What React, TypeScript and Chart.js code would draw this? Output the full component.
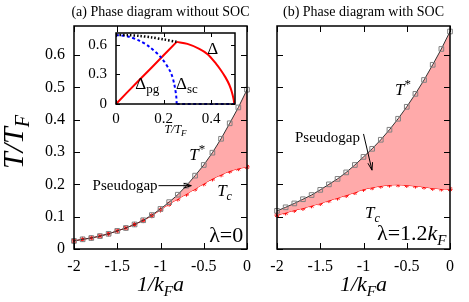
import React, { useEffect, useRef } from "react";
import { Chart, registerables } from "chart.js";

Chart.register(...registerables);

const SERIF = '"Liberation Serif", "DejaVu Serif", "Times New Roman", serif';

// ---- main panels data ----
const couplingX = [-2, -1.9, -1.8, -1.7, -1.6, -1.5, -1.4, -1.3, -1.2, -1.1, -1, -0.9, -0.8, -0.7, -0.6, -0.5, -0.4, -0.3, -0.2, -0.1, 0];
const tStarNoSOC = [0.025, 0.03, 0.034, 0.04, 0.047, 0.056, 0.065, 0.076, 0.089, 0.105, 0.124, 0.145, 0.168, 0.196, 0.227, 0.26, 0.298, 0.341, 0.389, 0.438, 0.493];
const tcNoSOC = [0.025, 0.03, 0.034, 0.04, 0.047, 0.056, 0.065, 0.076, 0.088, 0.103, 0.121, 0.139, 0.155, 0.17, 0.186, 0.202, 0.217, 0.23, 0.241, 0.249, 0.254];
const tStarSOC = [0.118, 0.129, 0.141, 0.154, 0.167, 0.183, 0.2, 0.217, 0.237, 0.26, 0.285, 0.31, 0.338, 0.369, 0.403, 0.44, 0.48, 0.523, 0.57, 0.619, 0.673];
const tcSOC = [0.105, 0.112, 0.12, 0.126, 0.134, 0.141, 0.15, 0.158, 0.166, 0.175, 0.185, 0.19, 0.195, 0.198, 0.199, 0.197, 0.195, 0.192, 0.188, 0.186, 0.185];
const mainXTicks = [-2, -1.5, -1, -0.5, 0];
const mainYTicks = [0, 0.1, 0.2, 0.3, 0.4, 0.5, 0.6];

// ---- inset data (gap vs T/T_F) ----
const pgRiseT = [0, 0.05, 0.1, 0.15, 0.2, 0.255];
const pgRiseV = [0, 0.125, 0.248, 0.37, 0.495, 0.63];
const gapFallT = [0.255, 0.3, 0.35, 0.385, 0.42, 0.44, 0.46, 0.476, 0.487, 0.494, 0.497];
const gapFallV = [0.63, 0.61, 0.56, 0.505, 0.41, 0.345, 0.27, 0.195, 0.12, 0.05, 0];
const scCurveT = [0, 0.05, 0.1, 0.14, 0.19, 0.23, 0.245, 0.253, 0.255];
const scCurveV = [0.7, 0.685, 0.64, 0.58, 0.47, 0.32, 0.2, 0.08, 0];
const scZeroT = [0.255, 0.5];
const scZeroV = [0, 0];
const totalT = [0, 0.05, 0.1, 0.15, 0.2, 0.255];
const totalV = [0.7, 0.698, 0.69, 0.675, 0.655, 0.63];
const insetXTicks = [0, 0.2, 0.4];
const insetYTicks = [0, 0.3, 0.6];

type Seg = { t: string; size: number; italic?: boolean; dy?: number };

function fontOf(s: Seg) {
  return `${s.italic ? "italic " : ""}${s.size}px ${SERIF}`;
}

function drawRich(ctx: CanvasRenderingContext2D, x: number, y: number, segs: Seg[], align: "left" | "center" | "right" = "left") {
  let total = 0;
  const widths = segs.map((s) => {
    ctx.font = fontOf(s);
    const w = ctx.measureText(s.t).width;
    total += w;
    return w;
  });
  let cx = align === "left" ? x : align === "center" ? x - total / 2 : x - total;
  ctx.textAlign = "left";
  segs.forEach((s, i) => {
    ctx.font = fontOf(s);
    ctx.fillText(s.t, cx, y + (s.dy || 0));
    cx += widths[i];
  });
}

function arrow(ctx: CanvasRenderingContext2D, x1: number, y1: number, x2: number, y2: number) {
  ctx.beginPath();
  ctx.moveTo(x1, y1);
  ctx.lineTo(x2, y2);
  ctx.stroke();
  const ang = Math.atan2(y2 - y1, x2 - x1);
  const head = 8;
  const sp = 0.3;
  ctx.beginPath();
  ctx.moveTo(x2 - head * Math.cos(ang - sp), y2 - head * Math.sin(ang - sp));
  ctx.lineTo(x2, y2);
  ctx.lineTo(x2 - head * Math.cos(ang + sp), y2 - head * Math.sin(ang + sp));
  ctx.stroke();
}

function pairs(xs: number[], ys: number[]) {
  return xs.map((x, i) => ({ x, y: ys[i] }));
}

function framePlugin(xt: number[], yt: number[], len: number, lw: number, extra?: (chart: any) => void) {
  return {
    id: "frameTicks",
    afterDraw(chart: any) {
      const { ctx, chartArea: a, scales } = chart;
      ctx.save();
      ctx.strokeStyle = "#000";
      ctx.lineWidth = 1;
      ctx.beginPath();
      for (const v of xt) {
        const px = Math.round(scales.x.getPixelForValue(v)) + 0.5;
        ctx.moveTo(px, a.bottom);
        ctx.lineTo(px, a.bottom - len);
        ctx.moveTo(px, a.top);
        ctx.lineTo(px, a.top + len);
      }
      for (const v of yt) {
        const py = Math.round(scales.y.getPixelForValue(v)) + 0.5;
        ctx.moveTo(a.left, py);
        ctx.lineTo(a.left + len, py);
        ctx.moveTo(a.right, py);
        ctx.lineTo(a.right - len, py);
      }
      ctx.stroke();
      ctx.lineWidth = lw;
      ctx.strokeRect(a.left, a.top, a.right - a.left, a.bottom - a.top);
      ctx.fillStyle = "#000";
      ctx.textBaseline = "alphabetic";
      if (extra) extra(chart);
      ctx.restore();
    },
  };
}

function mainConfig(
  tStar: number[],
  tc: number[],
  showYLabels: boolean,
  yWidth: number,
  padRight: number,
  annotate: (chart: any) => void
): any {
  return {
    type: "line",
    data: {
      datasets: [
        {
          label: "T*",
          data: pairs(couplingX, tStar),
          borderColor: "#333333",
          borderWidth: 1,
          pointStyle: "rect",
          pointRadius: 3.3,
          pointBorderColor: "#808080",
          pointBackgroundColor: "rgba(0,0,0,0)",
          pointBorderWidth: 1,
          fill: "+1",
          backgroundColor: "rgb(255,170,170)",
          tension: 0,
          clip: 6,
        },
        {
          label: "Tc",
          data: pairs(couplingX, tc),
          borderColor: "#ff0000",
          borderWidth: 1,
          pointStyle: "star",
          pointRadius: 2.6,
          pointBorderColor: "#ff0000",
          pointBackgroundColor: "#ff0000",
          pointBorderWidth: 1,
          fill: false,
          tension: 0,
          clip: 6,
        },
      ],
    },
    options: {
      animation: false,
      responsive: false,
      devicePixelRatio: 1,
      events: [],
      layout: { padding: { left: 0, right: padRight, top: 26, bottom: 0 } },
      plugins: { legend: { display: false }, tooltip: { enabled: false }, title: { display: false } },
      scales: {
        x: {
          type: "linear",
          min: -2,
          max: 0,
          grid: { display: false, drawTicks: false },
          border: { display: false },
          ticks: {
            font: { family: SERIF, size: 16 },
            color: "#000",
            padding: 8,
            maxRotation: 0,
            autoSkip: false,
            callback: (v: number) => String(v),
          },
          afterBuildTicks: (s: any) => {
            s.ticks = mainXTicks.map((v) => ({ value: v }));
          },
          afterFit: (s: any) => {
            s.height = 53;
            s.paddingLeft = 0;
            s.paddingRight = 0;
          },
        },
        y: {
          type: "linear",
          min: 0,
          max: 0.69,
          grid: { display: false, drawTicks: false },
          border: { display: false },
          ticks: {
            display: showYLabels,
            font: { family: SERIF, size: 16 },
            color: "#000",
            padding: 9,
            callback: (v: number) => String(v),
          },
          afterBuildTicks: (s: any) => {
            s.ticks = mainYTicks.map((v) => ({ value: v }));
          },
          afterFit: (s: any) => {
            s.width = yWidth;
            s.paddingTop = 0;
            s.paddingBottom = 0;
          },
        },
      },
    },
    plugins: [framePlugin(mainXTicks, mainYTicks, 6, 1.5, annotate)],
  };
}

function xTitle(ctx: CanvasRenderingContext2D, a: any) {
  drawRich(
    ctx,
    (a.left + a.right) / 2,
    291,
    [
      { t: "1/k", size: 22, italic: true },
      { t: "F", size: 15, italic: true, dy: 5 },
      { t: "a", size: 22, italic: true },
    ],
    "center"
  );
}

const annotateLeft = (chart: any) => {
  const { ctx, chartArea: a, scales } = chart;
  const px = (v: number) => scales.x.getPixelForValue(v);
  const py = (v: number) => scales.y.getPixelForValue(v);
  drawRich(ctx, (a.left + a.right) / 2, a.top - 10, [{ t: "(a) Phase diagram without SOC", size: 14 }], "center");
  xTitle(ctx, a);
  ctx.save();
  ctx.translate(23, 142);
  ctx.rotate(-Math.PI / 2);
  drawRich(ctx, 0, 0, [
    { t: "T/T", size: 30, italic: true },
    { t: "F", size: 20, italic: true, dy: 6 },
  ], "center");
  ctx.restore();
  ctx.textBaseline = "middle";
  drawRich(ctx, px(-1.785), py(0.195), [{ t: "Pseudogap", size: 15 }]);
  ctx.textBaseline = "alphabetic";
  ctx.lineWidth = 1;
  arrow(ctx, px(-1.023), py(0.196), px(-0.644), py(0.196));
  drawRich(ctx, px(-0.667), py(0.275), [
    { t: "T", size: 17, italic: true },
    { t: "*", size: 13, dy: -7 },
  ]);
  drawRich(ctx, px(-0.345), py(0.164), [
    { t: "T", size: 17, italic: true },
    { t: "c", size: 12, italic: true, dy: 4 },
  ]);
  drawRich(ctx, px(-0.437), py(0.023), [{ t: "λ=0", size: 22 }]);
};

const annotateRight = (chart: any) => {
  const { ctx, chartArea: a, scales } = chart;
  const px = (v: number) => scales.x.getPixelForValue(v);
  const py = (v: number) => scales.y.getPixelForValue(v);
  drawRich(ctx, (a.left + a.right) / 2, a.top - 10, [{ t: "(b) Phase diagram with SOC", size: 14 }], "center");
  xTitle(ctx, a);
  ctx.textBaseline = "middle";
  drawRich(ctx, px(-1.792), py(0.343), [{ t: "Pseudogap", size: 15 }]);
  ctx.textBaseline = "alphabetic";
  ctx.lineWidth = 1;
  arrow(ctx, px(-1.0), py(0.356), px(-0.902), py(0.244));
  drawRich(ctx, px(-0.636), py(0.476), [
    { t: "T", size: 17, italic: true },
    { t: "*", size: 13, dy: -7 },
  ]);
  drawRich(ctx, px(-0.983), py(0.096), [
    { t: "T", size: 17, italic: true },
    { t: "c", size: 12, italic: true, dy: 4 },
  ]);
  drawRich(ctx, px(-0.844), py(0.029), [
    { t: "λ=1.2", size: 22 },
    { t: "k", size: 22, italic: true },
    { t: "F", size: 15, italic: true, dy: 5 },
  ]);
};

const annotateInset = (chart: any) => {
  const { ctx, chartArea: a, scales } = chart;
  const px = (v: number) => scales.x.getPixelForValue(v);
  const py = (v: number) => scales.y.getPixelForValue(v);
  drawRich(ctx, (a.left + a.right) / 2, a.bottom + 29, [
    { t: "T/T", size: 12, italic: true },
    { t: "F", size: 9, italic: true, dy: 3 },
  ], "center");
  drawRich(ctx, px(0.383), py(0.51), [{ t: "Δ", size: 17 }]);
  drawRich(ctx, px(0.081), py(0.15), [
    { t: "Δ", size: 17 },
    { t: "pg", size: 13, dy: 4 },
  ]);
  drawRich(ctx, px(0.252), py(0.15), [
    { t: "Δ", size: 17 },
    { t: "sc", size: 13, dy: 4 },
  ]);
};

function insetConfig(): any {
  const base = { pointRadius: 0, fill: false, clip: 3 };
  return {
    type: "line",
    data: {
      datasets: [
        { ...base, data: pairs(totalT, totalV), borderColor: "#000000", borderWidth: 2.5, borderDash: [1.5, 2], tension: 0.3 },
        { ...base, data: pairs(scCurveT, scCurveV), borderColor: "#0000ff", borderWidth: 2, borderDash: [3, 2.5], tension: 0.3 },
        { ...base, data: pairs(scZeroT, scZeroV), borderColor: "#0000ff", borderWidth: 2, borderDash: [3, 2.5], tension: 0 },
        { ...base, data: pairs(pgRiseT, pgRiseV), borderColor: "#ff0000", borderWidth: 2, tension: 0 },
        { ...base, data: pairs(gapFallT, gapFallV), borderColor: "#ff0000", borderWidth: 2, tension: 0.3 },
      ],
    },
    options: {
      animation: false,
      responsive: false,
      devicePixelRatio: 1,
      events: [],
      layout: { padding: { left: 0, right: 5, top: 5, bottom: 0 } },
      plugins: { legend: { display: false }, tooltip: { enabled: false }, title: { display: false } },
      scales: {
        x: {
          type: "linear",
          min: 0,
          max: 0.5,
          grid: { display: false, drawTicks: false },
          border: { display: false },
          ticks: { font: { family: SERIF, size: 15 }, color: "#000", padding: 6, maxRotation: 0, autoSkip: false, callback: (v: number) => String(v) },
          afterBuildTicks: (s: any) => {
            s.ticks = insetXTicks.map((v) => ({ value: v }));
          },
          afterFit: (s: any) => {
            s.height = 38;
            s.paddingLeft = 0;
            s.paddingRight = 0;
          },
        },
        y: {
          type: "linear",
          min: 0,
          max: 0.72,
          grid: { display: false, drawTicks: false },
          border: { display: false },
          ticks: { font: { family: SERIF, size: 15 }, color: "#000", padding: 9, callback: (v: number) => String(v) },
          afterBuildTicks: (s: any) => {
            s.ticks = insetYTicks.map((v) => ({ value: v }));
          },
          afterFit: (s: any) => {
            s.width = 36;
            s.paddingTop = 0;
            s.paddingBottom = 0;
          },
        },
      },
    },
    plugins: [framePlugin(insetXTicks, insetYTicks, 4, 1.5, annotateInset)],
  };
}

export default function App() {
  const leftRef = useRef<HTMLCanvasElement>(null);
  const rightRef = useRef<HTMLCanvasElement>(null);
  const insetRef = useRef<HTMLCanvasElement>(null);

  useEffect(() => {
    const charts: Chart[] = [];
    if (leftRef.current) charts.push(new Chart(leftRef.current, mainConfig(tStarNoSOC, tcNoSOC, true, 74, 4, annotateLeft)));
    if (rightRef.current) charts.push(new Chart(rightRef.current, mainConfig(tStarSOC, tcSOC, false, 25, 19, annotateRight)));
    if (insetRef.current) charts.push(new Chart(insetRef.current, insetConfig()));
    return () => charts.forEach((c) => c.destroy());
  }, []);

  return (
    <div style={{ position: "fixed", left: 0, top: 0, width: 469, height: 302, background: "#fff", overflow: "hidden" }}>
      <canvas ref={leftRef} width={252} height={302} style={{ position: "absolute", left: 0, top: 0, width: 252, height: 302 }} />
      <canvas ref={rightRef} width={217} height={302} style={{ position: "absolute", left: 252, top: 0, width: 217, height: 302 }} />
      <canvas ref={insetRef} width={160} height={114} style={{ position: "absolute", left: 80, top: 28, width: 160, height: 114 }} />
    </div>
  );
}
